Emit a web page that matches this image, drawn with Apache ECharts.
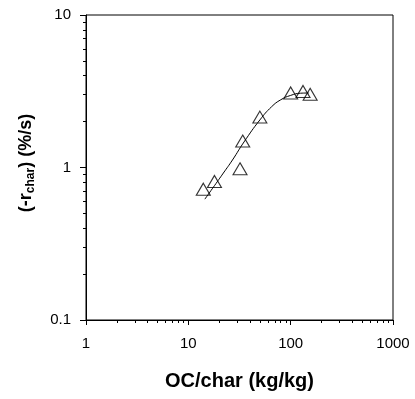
<!DOCTYPE html>
<html>
<head>
<meta charset="utf-8">
<script src="https://cdn.jsdelivr.net/npm/echarts@6/dist/echarts.min.js"></script>
<style>
html, body { margin: 0; padding: 0; background: #fff; }
#chart { width: 415px; height: 399px; }
</style>
</head>
<body>
<div id="chart"></div>
<script>
// measured points
var ocChar = [14, 18, 32, 34, 50, 100, 132, 155];
var rateChar = [0.72, 0.81, 0.98, 1.49, 2.14, 3.08, 3.15, 3.02];

// fitted curve
var fitX = [14.5, 18, 22, 27, 35, 50, 65, 80, 100, 125, 150];
var fitY = [0.62, 0.76, 0.92, 1.12, 1.47, 2.05, 2.5, 2.78, 2.97, 3.07, 3.08];

var xMajor = [1, 10, 100, 1000];
var xMinor = [2, 3, 4, 5, 6, 7, 8, 9, 20, 30, 40, 50, 60, 70, 80, 90, 200, 300, 400, 500, 600, 700, 800, 900];
var yMajor = [0.1, 1, 10];
var yMinor = [0.2, 0.3, 0.4, 0.5, 0.6, 0.7, 0.8, 0.9, 2, 3, 4, 5, 6, 7, 8, 9];

var font = 'Arial, "Liberation Sans", sans-serif';

function pairs(xs, ys) {
    var out = [];
    for (var i = 0; i < xs.length; i++) out.push([xs[i], ys[i]]);
    return out;
}

function plainNum(v) {
    return String(v);
}

var chart = echarts.init(document.getElementById('chart'));

var option = {
    animation: false,
    grid: {
        left: 86,
        right: 22,
        top: 15,
        bottom: 79,
        show: true,
        borderColor: '#000',
        borderWidth: 1
    },
    xAxis: [
        {
            type: 'log',
            logBase: 10,
            min: 1,
            max: 1000,
            position: 'bottom',
            name: 'OC/char (kg/kg)',
            nameLocation: 'middle',
            nameGap: 51,
            nameTextStyle: { fontFamily: font, fontSize: 20, fontWeight: 'bold', color: '#000' },
            axisLine: { show: true, lineStyle: { color: '#000', width: 1 } },
            axisTick: { show: true, inside: false, length: 5, customValues: xMajor, lineStyle: { color: '#000' } },
            axisLabel: { customValues: xMajor, formatter: plainNum, margin: 16, fontFamily: font, fontSize: 15, color: '#000' },
            splitLine: { show: false }
        },
        {
            type: 'log',
            logBase: 10,
            min: 1,
            max: 1000,
            position: 'bottom',
            offset: 0,
            axisLine: { show: false },
            axisTick: { show: true, inside: false, length: 3, customValues: xMinor, lineStyle: { color: '#000' } },
            axisLabel: { show: false },
            splitLine: { show: false }
        }
    ],
    yAxis: [
        {
            type: 'log',
            logBase: 10,
            min: 0.1,
            max: 10,
            position: 'left',
            name: '(-r{sub|char}) (%/s)',
            nameLocation: 'middle',
            nameRotate: 90,
            nameGap: 49,
            nameTextStyle: {
                fontFamily: font, fontSize: 18, fontWeight: 'bold', color: '#000',
                padding: [0, 0, 0, 9],
                rich: {
                    sub: { fontFamily: font, fontSize: 12, fontWeight: 'bold', color: '#000', padding: [10, 0, 0, 0] }
                }
            },
            axisLine: { show: true, lineStyle: { color: '#000', width: 1 } },
            axisTick: { show: true, inside: false, length: 6, customValues: yMajor, lineStyle: { color: '#000' } },
            axisLabel: { customValues: yMajor, formatter: plainNum, margin: 15, fontFamily: font, fontSize: 15, color: '#000' },
            splitLine: { show: false }
        },
        {
            type: 'log',
            logBase: 10,
            min: 0.1,
            max: 10,
            position: 'left',
            offset: 0,
            axisLine: { show: false },
            axisTick: { show: true, inside: false, length: 3, customValues: yMinor, lineStyle: { color: '#000' } },
            axisLabel: { show: false },
            splitLine: { show: false }
        }
    ],
    series: [
        {
            type: 'line',
            data: pairs(fitX, fitY),
            smooth: true,
            showSymbol: false,
            lineStyle: { color: '#000', width: 1 },
            z: 2
        },
        {
            type: 'scatter',
            data: pairs(ocChar, rateChar),
            symbol: 'triangle',
            symbolSize: [14, 12],
            itemStyle: { color: 'rgba(255,255,255,0)', borderColor: '#000', borderWidth: 1.1 },
            z: 3
        }
    ]
};

chart.setOption(option);
</script>
</body>
</html>
